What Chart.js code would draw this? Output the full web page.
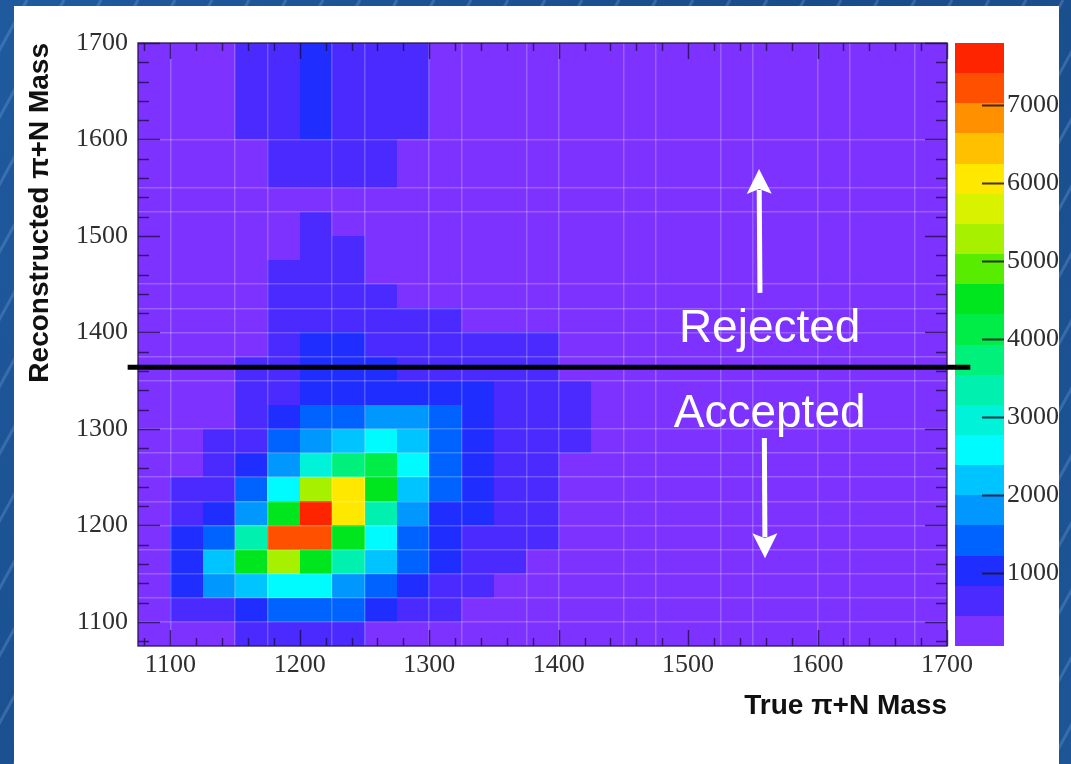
<!DOCTYPE html>
<html>
<head>
<meta charset="utf-8">
<title>Reconstructed vs true pi+N mass</title>
<script src="https://cdn.jsdelivr.net/npm/chart.js@4.4.1/dist/chart.umd.min.js"></script>
<style>
  html, body { margin: 0; padding: 0; background: #1b4f8f; }
  #wrap { width: 1071px; height: 764px; }
</style>
</head>
<body>
<div id="wrap"><canvas id="massChart" width="1071" height="764"></canvas></div>
<script>
// Histogram binning: 25 MeV bins from 1075 to 1700 on both axes
const BIN_LO = 1075;
const BIN_W = 25;
const N_BINS = 25;

const massTickLabels = [1100, 1200, 1300, 1400, 1500, 1600, 1700];
const countTickLabels = [1000, 2000, 3000, 4000, 5000, 6000, 7000];
const countMin = 60;
const countMax = 7800;
const cutMass = 1364;             // accept / reject cut on reconstructed mass
const cutSpan = [1067, 1718];     // horizontal extent of the cut line

// Entries per bin. counts[j][i]: j = reconstructed-mass bin (bottom up),
// i = true-mass bin (left to right). Columns not listed are empty.
const counts = [
  [0, 0, 0, 600, 600, 600, 600],
  [0, 600, 600, 1000, 1400, 1400, 1400, 1000, 600, 600],
  [0, 1000, 1800, 2200, 2500, 2500, 1800, 1400, 1000, 600, 600],
  [0, 1000, 2200, 4500, 5300, 4500, 3300, 2200, 1400, 1000, 600, 600],
  [0, 1000, 1400, 3300, 7200, 7200, 4500, 2500, 1400, 1000, 600, 600, 600],
  [0, 600, 1000, 1800, 4500, 7600, 6000, 3300, 1800, 1000, 1000, 600, 600],
  [0, 600, 600, 1400, 2500, 5300, 6000, 4500, 2200, 1400, 1000, 600, 600],
  [0, 0, 600, 1000, 1800, 3000, 3700, 4100, 2500, 1400, 1000, 600, 600],
  [0, 0, 600, 600, 1400, 1800, 2200, 2500, 2200, 1400, 1000, 600, 600, 600],
  [0, 0, 0, 600, 1000, 1400, 1400, 1800, 1800, 1400, 1000, 600, 600, 600],
  [0, 0, 0, 600, 600, 1000, 1000, 1000, 1000, 1000, 1000, 600, 600, 600],
  [0, 0, 0, 600, 600, 1000, 1000, 1000, 600, 600, 600, 600, 600],
  [0, 0, 0, 0, 600, 1000, 1000, 600, 600, 600, 600, 600, 600],
  [0, 0, 0, 0, 600, 600, 600, 600, 600, 600],
  [0, 0, 0, 0, 600, 600, 600, 600],
  [0, 0, 0, 0, 600, 600, 600],
  [0, 0, 0, 0, 0, 600, 600],
  [0, 0, 0, 0, 0, 600],
  [],
  [0, 0, 0, 0, 600, 600, 600, 600],
  [0, 0, 0, 0, 600, 600, 600, 600],
  [0, 0, 0, 600, 600, 1000, 600, 600, 600],
  [0, 0, 0, 600, 600, 1000, 600, 600, 600],
  [0, 0, 0, 600, 600, 1000, 600, 600, 600],
  [0, 0, 0, 600, 600, 1000, 600, 600, 600],
];

// 20 contour colours, lowest first
const palette = [
  '#7d32ff', '#4b2aff', '#1f2eff', '#0062ff', '#0098ff',
  '#00c4ff', '#00fbff', '#00f2d8', '#00f0b0', '#00f07c',
  '#00ed48', '#00e61e', '#58ec00', '#a6f000', '#d8f200',
  '#ffe800', '#ffc000', '#ff9000', '#ff5000', '#ff2400',
];

const zoneNotes = [
  { text: 'Rejected', x: 1563, y: 1390 },
  { text: 'Accepted', x: 1563, y: 1302 },
];
const zoneArrows = [
  { x0: 1555.5, y0: 1441, x1: 1554.8, y1: 1569.5 },
  { x0: 1558.9, y0: 1290.5, x1: 1559.4, y1: 1166 },
];

const gridMasses = [];
for (let m = BIN_LO; m <= BIN_LO + N_BINS * BIN_W; m += BIN_W) gridMasses.push(m);

const hiddenX = [1075, 1125, 1200, 1275, 1350, 1425, 1500, 1575, 1650, 1700];
const hiddenY = [1075, 1325, 1475, 1500, 1575, 1625, 1650, 1675, 1700];

const serif = '"Liberation Serif", "Times New Roman", serif';
const sans = '"Liberation Sans", Arial, sans-serif';
const bandWidth = (countMax - countMin) / palette.length;

function contourColour(v) {
  const k = Math.max(0, Math.min(palette.length - 1, Math.floor((v - countMin) / bandWidth)));
  return palette[k];
}

// keep the frame where the layout padding puts it
function noLabelOverhang(s) {
  s.paddingTop = 0; s.paddingBottom = 0; s.paddingLeft = 0; s.paddingRight = 0;
}

// slide background, white panel, cells and colour scale
const histPlugin = {
  id: 'hist2d',
  beforeDraw(chart) {
    const { ctx, chartArea: area, scales: { x, y, z } } = chart;
    ctx.save();
    const g = ctx.createLinearGradient(0, 0, chart.width, chart.height);
    g.addColorStop(0, '#1f5a9f');
    g.addColorStop(0.5, '#194c8a');
    g.addColorStop(1, '#1d5596');
    ctx.fillStyle = g;
    ctx.fillRect(0, 0, chart.width, chart.height);
    ctx.strokeStyle = 'rgba(140,185,235,0.25)';
    ctx.lineWidth = 3;
    for (let s = -800; s < 1100; s += 37) {
      ctx.beginPath();
      ctx.moveTo(s, chart.height);
      ctx.lineTo(s + 420, 0);
      ctx.stroke();
    }
    ctx.fillStyle = '#ffffff';
    ctx.fillRect(14, 6, 1045, chart.height - 6);

    // frame fill, then one rectangle per bin
    ctx.fillStyle = palette[0];
    ctx.fillRect(area.left, area.top, area.right - area.left, area.bottom - area.top);
    counts.forEach((row, j) => {
      row.forEach((v, i) => {
        const l = Math.round(x.getPixelForValue(BIN_LO + i * BIN_W));
        const r = Math.round(x.getPixelForValue(BIN_LO + (i + 1) * BIN_W));
        const b = Math.round(y.getPixelForValue(BIN_LO + j * BIN_W));
        const t = Math.round(y.getPixelForValue(BIN_LO + (j + 1) * BIN_W));
        ctx.fillStyle = contourColour(v);
        ctx.fillRect(l, t, r - l, b - t);
      });
    });

    // colour scale
    const barL = area.right + 8, barR = area.right + 57;
    palette.forEach((c, k) => {
      const b = Math.round(z.getPixelForValue(countMin + k * bandWidth));
      const t = Math.round(z.getPixelForValue(countMin + (k + 1) * bandWidth));
      ctx.fillStyle = c;
      ctx.fillRect(barL, t, barR - barL, b - t);
    });
    ctx.strokeStyle = 'rgba(30,20,40,0.85)';
    ctx.lineWidth = 2;
    countTickLabels.forEach(v => {
      const py = Math.round(z.getPixelForValue(v)) + 0.5;
      ctx.beginPath();
      ctx.moveTo(barR - 22, py);
      ctx.lineTo(barR, py);
      ctx.stroke();
    });
    ctx.restore();
  },
  // tick marks on all four sides of the frame, pointing inwards
  beforeDatasetsDraw(chart) {
    const { ctx, chartArea: area, scales: { x, y } } = chart;
    ctx.save();
    ctx.strokeStyle = 'rgba(25,5,60,0.7)';
    ctx.lineWidth = 1.5;
    for (let m = 1080; m <= 1700; m += 20) {
      const major = m % 100 === 0;
      const px = Math.round(x.getPixelForValue(m)) + 0.5;
      const lx = major ? 16 : 8;
      ctx.beginPath();
      ctx.moveTo(px, area.bottom); ctx.lineTo(px, area.bottom - lx);
      ctx.moveTo(px, area.top); ctx.lineTo(px, area.top + lx);
      ctx.stroke();
      const py = Math.round(y.getPixelForValue(m)) + 0.5;
      const ly = major ? 22 : 11;
      ctx.beginPath();
      ctx.moveTo(area.left, py); ctx.lineTo(area.left + ly, py);
      ctx.moveTo(area.right, py); ctx.lineTo(area.right - ly, py);
      ctx.stroke();
    }
    ctx.strokeStyle = 'rgba(40,20,80,0.85)';
    ctx.lineWidth = 1.5;
    ctx.strokeRect(area.left, area.top, area.right - area.left, area.bottom - area.top);
    ctx.restore();
  },
  // region labels and arrows
  afterDraw(chart) {
    const { ctx, scales: { x, y } } = chart;
    ctx.save();
    ctx.fillStyle = '#ffffff';
    ctx.strokeStyle = '#ffffff';
    ctx.font = '46px ' + sans;
    ctx.textAlign = 'center';
    ctx.textBaseline = 'alphabetic';
    zoneNotes.forEach(n => ctx.fillText(n.text, x.getPixelForValue(n.x), y.getPixelForValue(n.y)));
    zoneArrows.forEach(a => {
      const x0 = x.getPixelForValue(a.x0), y0 = y.getPixelForValue(a.y0);
      const x1 = x.getPixelForValue(a.x1), y1 = y.getPixelForValue(a.y1);
      const ang = Math.atan2(y1 - y0, x1 - x0);
      const headLen = 25, headHalf = 12.5;
      const bx = x1 - Math.cos(ang) * (headLen - 4), by = y1 - Math.sin(ang) * (headLen - 4);
      ctx.lineWidth = 5;
      ctx.beginPath();
      ctx.moveTo(x0, y0); ctx.lineTo(bx, by);
      ctx.stroke();
      const cx = x1 - Math.cos(ang) * headLen, cy = y1 - Math.sin(ang) * headLen;
      const nx = -Math.sin(ang), ny = Math.cos(ang);
      ctx.beginPath();
      ctx.moveTo(x1, y1);
      ctx.lineTo(cx + nx * headHalf, cy + ny * headHalf);
      ctx.lineTo(x1 - Math.cos(ang) * (headLen - 5), y1 - Math.sin(ang) * (headLen - 5));
      ctx.lineTo(cx - nx * headHalf, cy - ny * headHalf);
      ctx.closePath();
      ctx.fill();
    });
    ctx.restore();
  }
};

const massTickLabel = v => (massTickLabels.includes(v) ? String(v) : '');

new Chart(document.getElementById('massChart'), {
  type: 'scatter',
  data: {
    datasets: [{
      label: 'cut',
      data: cutSpan.map(m => ({ x: m, y: cutMass })),
      showLine: true,
      borderColor: '#000000',
      borderWidth: 5,
      pointRadius: 0,
      clip: false,
      xAxisID: 'x',
      yAxisID: 'y'
    }]
  },
  options: {
    responsive: false,
    animation: false,
    events: [],
    layout: { padding: { left: 23, top: 43, right: 0, bottom: 41 } },
    plugins: { legend: { display: false }, tooltip: { enabled: false } },
    scales: {
      x: {
        type: 'linear',
        position: 'bottom',
        min: BIN_LO,
        max: BIN_LO + N_BINS * BIN_W,
        afterBuildTicks: s => { s.ticks = gridMasses.map(v => ({ value: v })); },
        afterFit: s => { s.height = 77; noLabelOverhang(s); },
        ticks: {
          autoSkip: false, maxRotation: 0, padding: 4,
          color: '#2e2e2e', font: { family: serif, size: 26 },
          callback: massTickLabel
        },
        grid: {
          drawTicks: false, lineWidth: 1.5,
          color: c => (c.tick && hiddenX.includes(c.tick.value)) ? 'rgba(0,0,0,0)' : 'rgba(255,255,255,0.22)'
        },
        border: { display: false },
        title: {
          display: true, text: 'True π+N Mass', align: 'end', padding: 0,
          color: '#111111', font: { family: sans, size: 28, weight: 'bold' }
        }
      },
      y: {
        type: 'linear',
        position: 'left',
        min: BIN_LO,
        max: BIN_LO + N_BINS * BIN_W,
        afterBuildTicks: s => { s.ticks = gridMasses.map(v => ({ value: v })); },
        afterFit: s => { s.width = 115; noLabelOverhang(s); },
        ticks: {
          autoSkip: false, padding: 10,
          color: '#2e2e2e', font: { family: serif, size: 26 },
          callback: massTickLabel
        },
        grid: {
          drawTicks: false, lineWidth: 1.5,
          color: c => (c.tick && hiddenY.includes(c.tick.value)) ? 'rgba(0,0,0,0)' : 'rgba(255,255,255,0.22)'
        },
        border: { display: false },
        title: {
          display: true, text: 'Reconstructed π+N Mass', align: 'end', padding: 0,
          color: '#111111', font: { family: sans, size: 28, weight: 'bold' }
        }
      },
      z: {
        type: 'linear',
        position: 'right',
        min: countMin,
        max: countMax,
        afterBuildTicks: s => { s.ticks = countTickLabels.map(v => ({ value: v })); },
        afterFit: s => { s.width = 124; noLabelOverhang(s); },
        ticks: {
          padding: 60, color: '#2e2e2e', font: { family: serif, size: 26 },
          callback: v => String(v)
        },
        grid: { display: false, drawTicks: false },
        border: { display: false }
      }
    }
  },
  plugins: [histPlugin]
});
</script>
</body>
</html>
